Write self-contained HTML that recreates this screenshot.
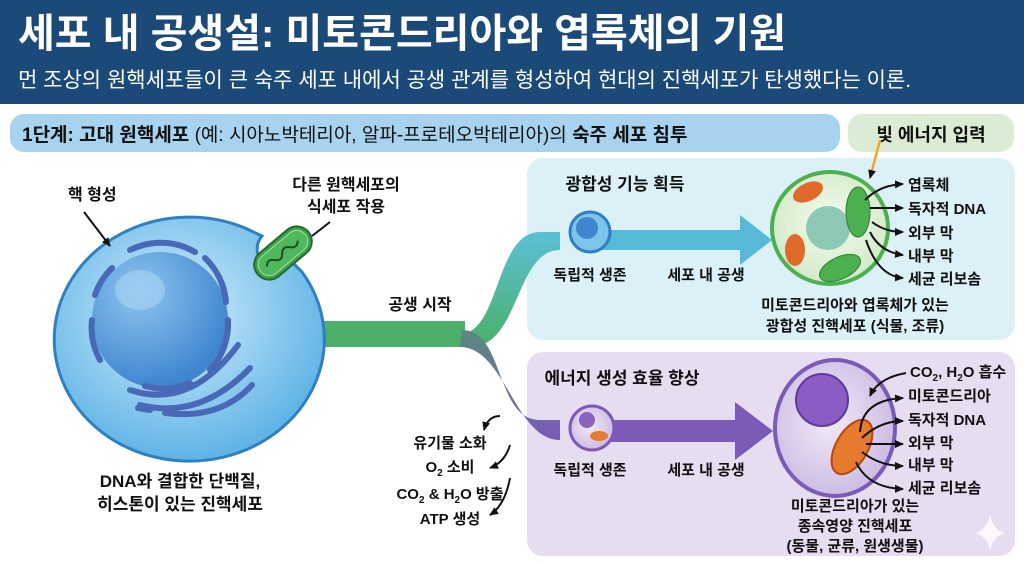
<!DOCTYPE html>
<html><head><meta charset="utf-8"><style>
body{margin:0;width:1024px;height:559px;overflow:hidden;background:#fff;}
svg text{font-family:"Liberation Sans","Noto Sans CJK KR",sans-serif;fill:#111;}
.l{font-weight:bold;}
</style></head><body>
<svg width="1024" height="559" viewBox="0 0 1024 559" xmlns="http://www.w3.org/2000/svg">
<defs>
<radialGradient id="hc" cx="0.45" cy="0.4" r="0.6"><stop offset="0" stop-color="#d4effb"/><stop offset="1" stop-color="#5fb3e6"/></radialGradient>
<radialGradient id="nu" cx="0.35" cy="0.3" r="0.7"><stop offset="0" stop-color="#8dc4ee"/><stop offset="1" stop-color="#3f86cf"/></radialGradient>
<linearGradient id="up" x1="0" y1="1" x2="0" y2="0"><stop offset="0" stop-color="#4caf6a"/><stop offset="1" stop-color="#5bbfd6"/></linearGradient>
<linearGradient id="dn" x1="0" y1="0" x2="0" y2="1"><stop offset="0" stop-color="#5a8a7e"/><stop offset="1" stop-color="#7b5ab8"/></linearGradient>
<radialGradient id="pc" cx="0.5" cy="0.45" r="0.6"><stop offset="0" stop-color="#f5fbef"/><stop offset="1" stop-color="#cfe8c4"/></radialGradient>
<radialGradient id="ac" cx="0.45" cy="0.45" r="0.6"><stop offset="0" stop-color="#f1eaf7"/><stop offset="1" stop-color="#cbb8e2"/></radialGradient>
<marker id="ah" markerUnits="userSpaceOnUse" markerWidth="10" markerHeight="10" refX="8" refY="5" orient="auto"><path d="M0,1 L9,5 L0,9 Z" fill="#111"/></marker>
</defs>
<rect x="0" y="0" width="1024" height="104" fill="#1b4a78"/>
<text x="18" y="47" font-size="40" font-weight="bold" style="fill:#fff">세포 내 공생설: 미토콘드리아와 엽록체의 기원</text>
<text x="18" y="87" font-size="21" style="fill:#fff">먼 조상의 원핵세포들이 큰 숙주 세포 내에서 공생 관계를 형성하여 현대의 진핵세포가 탄생했다는 이론.</text>
<rect x="10" y="114" width="830" height="38" rx="14" fill="#a8d3ee"/>
<text x="22" y="141" font-size="19"><tspan font-weight="bold">1단계: 고대 원핵세포</tspan> (예: 시아노박테리아, 알파-프로테오박테리아)의 <tspan font-weight="bold">숙주 세포 침투</tspan></text>
<rect x="848" y="114" width="166" height="38" rx="14" fill="#dcecd4"/>
<text x="931" y="141" font-size="18" text-anchor="middle" class="l">빛 에너지 입력</text>
<rect x="527" y="158" width="488" height="182" rx="16" fill="#dcf1f7"/>
<rect x="527" y="352" width="488" height="204" rx="16" fill="#e7ddf0"/>
<!-- band -->
<rect x="300" y="321" width="165" height="26" fill="#4caf6a"/>
<path d="M460,334 C500,334 495,232 540,232 L560,232 L560,250 C515,250 520,347 470,347 Z" fill="url(#up)"/>
<path d="M462,330 C505,330 495,420 540,420 L560,420 L560,440 C515,440 505,347 460,347 Z" fill="url(#dn)"/>
<!-- host cell -->
<path d="M245,228 A135,122 0 1 0 302,272 L292,262 A18,18 0 0 1 262,236 Z" fill="url(#hc)" stroke="#2f7fc3" stroke-width="3"/>
<circle cx="160" cy="320" r="68" fill="url(#nu)"/>
<ellipse cx="140" cy="290" rx="25" ry="20" fill="#a9d3f3" opacity="0.6"/>
<g fill="none" stroke="#4a68b8" stroke-width="6" stroke-linecap="round">
<path d="M95,295 A68,68 0 0 1 112,268"/><path d="M130,250 A68,68 0 0 1 195,252"/>
<path d="M205,258 A68,68 0 0 1 226,302"/><path d="M228,320 A68,68 0 0 1 210,370"/>
<path d="M190,383 A68,68 0 0 1 145,386"/><path d="M100,360 A68,68 0 0 1 92,320"/>
<path d="M130,390 Q190,410 238,345"/><path d="M140,405 Q200,420 250,368"/><path d="M165,413 Q220,420 252,385"/><path d="M138,408 L150,410"/>
</g>
<g transform="rotate(-40 283 253)"><rect x="250" y="238" width="66" height="30" rx="15" fill="#3fa04d" stroke="#246b2e" stroke-width="2"/><rect x="254" y="242" width="58" height="22" rx="11" fill="#4fb75c" stroke="#a9e0a0"/><path d="M262,253 q5,-6 10,0 t10,0 t10,0 t10,0" stroke="#204d22" fill="none" stroke-width="2"/></g>
<text x="68" y="200" font-size="16" class="l">핵 형성</text>
<path d="M84,212 L110,246" stroke="#111" stroke-width="2" marker-end="url(#ah)"/>
<text x="346" y="190" font-size="16" text-anchor="middle" class="l">다른 원핵세포의</text>
<text x="346" y="212" font-size="16" text-anchor="middle" class="l">식세포 작용</text>
<path d="M330,222 L312,236" stroke="#111" stroke-width="2"/>
<text x="420" y="310" font-size="16" text-anchor="middle" class="l">공생 시작</text>
<text x="180" y="487" font-size="17" text-anchor="middle" class="l">DNA와 결합한 단백질,</text>
<text x="180" y="510" font-size="17" text-anchor="middle" class="l">히스톤이 있는 진핵세포</text>
<!-- top panel -->
<text x="625" y="190" font-size="17" text-anchor="middle" class="l">광합성 기능 획득</text>
<path d="M600,230 L740,230 L740,215 L772,240 L740,265 L740,250 L600,250Z" fill="#56b9d8"/>
<circle cx="590" cy="232" r="20" fill="#7ec4ea" stroke="#2f7fc3" stroke-width="3"/>
<circle cx="587" cy="228" r="11" fill="#3f86cf"/>
<text x="590" y="280" font-size="15" text-anchor="middle" class="l">독립적 생존</text>
<text x="706" y="280" font-size="15" text-anchor="middle" class="l">세포 내 공생</text>
<ellipse cx="830" cy="228" rx="58" ry="56" fill="url(#pc)" stroke="#4caf50" stroke-width="4"/>
<circle cx="828" cy="228" r="22" fill="#8ec9b8"/>
<ellipse cx="808" cy="192" rx="16" ry="9" transform="rotate(-25 808 192)" fill="#e06a2a"/>
<ellipse cx="795" cy="250" rx="10" ry="16" fill="#e06a2a"/>
<ellipse cx="858" cy="212" rx="12" ry="25" fill="#4caf50" stroke="#2e7d32"/>
<ellipse cx="840" cy="268" rx="22" ry="11" transform="rotate(-25 840 268)" fill="#4caf50" stroke="#2e7d32"/>
<path d="M880,140 L870,178" stroke="#f0a820" stroke-width="2.5" marker-end="url(#ah)"/>
<g stroke="#111" stroke-width="2" fill="none" marker-end="url(#ah)">
<path d="M865,200 Q880,185 903,184"/><path d="M870,208 L903,208"/><path d="M872,222 Q885,232 903,232"/><path d="M870,232 Q880,252 903,255"/><path d="M866,240 Q878,276 903,278"/></g>
<g font-size="15" class="l"><text x="908" y="190">엽록체</text><text x="908" y="214">독자적 DNA</text><text x="908" y="238">외부 막</text><text x="908" y="261">내부 막</text><text x="908" y="284">세균 리보솜</text></g>
<text x="855" y="310" font-size="15" text-anchor="middle" class="l">미토콘드리아와 엽록체가 있는</text>
<text x="855" y="331" font-size="15" text-anchor="middle" class="l">광합성 진핵세포 (식물, 조류)</text>
<!-- bottom panel -->
<text x="622" y="384" font-size="17" text-anchor="middle" class="l">에너지 생성 효율 향상</text>
<path d="M600,420 L735,420 L735,402 L773,431 L735,460 L735,442 L600,442Z" fill="#7b5ab8"/>
<ellipse cx="592" cy="428" rx="22" ry="22" fill="url(#ac)" stroke="#7b5ab8" stroke-width="3"/>
<circle cx="587" cy="420" r="8" fill="#8a62c0"/>
<ellipse cx="599" cy="436" rx="9" ry="5" fill="#e67a2e"/>
<text x="590" y="475" font-size="15" text-anchor="middle" class="l">독립적 생존</text>
<text x="706" y="475" font-size="15" text-anchor="middle" class="l">세포 내 공생</text>
<ellipse cx="835" cy="428" rx="60" ry="68" fill="url(#ac)" stroke="#7b5ab8" stroke-width="4"/>
<circle cx="822" cy="400" r="26" fill="#8a5cc4" stroke="#5e3a9a" stroke-width="2"/>
<ellipse cx="852" cy="447" rx="16" ry="30" transform="rotate(30 852 447)" fill="#e67a2e" stroke="#b04c10" stroke-width="2"/>
<g stroke="#111" stroke-width="2" fill="none" marker-end="url(#ah)">
<path d="M906,373 Q878,378 870,396"/><path d="M860,432 Q862,400 903,398"/><path d="M862,438 Q880,421 903,421"/><path d="M866,444 L903,444"/><path d="M862,452 Q880,466 903,466"/><path d="M856,462 Q868,488 903,489"/>
<path d="M500,416 Q488,416 484,430"/><path d="M510,445 Q505,462 490,468"/><path d="M510,478 Q505,505 490,515"/></g>
<g font-size="15" class="l"><text x="910" y="377">CO<tspan font-size="10" dy="4">2</tspan><tspan dy="-4">, H</tspan><tspan font-size="10" dy="4">2</tspan><tspan dy="-4">O 흡수</tspan></text>
<text x="908" y="401">미토콘드리아</text><text x="908" y="425">독자적 DNA</text><text x="908" y="448">외부 막</text><text x="908" y="470">내부 막</text><text x="908" y="493">세균 리보솜</text></g>
<text x="855" y="511" font-size="15" text-anchor="middle" class="l">미토콘드리아가 있는</text>
<text x="855" y="531" font-size="15" text-anchor="middle" class="l">종속영양 진핵세포</text>
<text x="855" y="551" font-size="15" text-anchor="middle" class="l">(동물, 균류, 원생생물)</text>
<path d="M990,515 Q993,530 1005,533 Q993,536 990,550 Q987,536 975,533 Q987,530 990,515Z" fill="#fff" opacity="0.8"/>
<g font-size="15" text-anchor="middle" class="l"><text x="450" y="448">유기물 소화</text><text x="450" y="472">O<tspan font-size="10" dy="4">2</tspan><tspan dy="-4"> 소비</tspan></text>
<text x="450" y="499">CO<tspan font-size="10" dy="4">2</tspan><tspan dy="-4"> &amp; H</tspan><tspan font-size="10" dy="4">2</tspan><tspan dy="-4">O 방출</tspan></text><text x="450" y="524">ATP 생성</text></g>
</svg>
</body></html>
